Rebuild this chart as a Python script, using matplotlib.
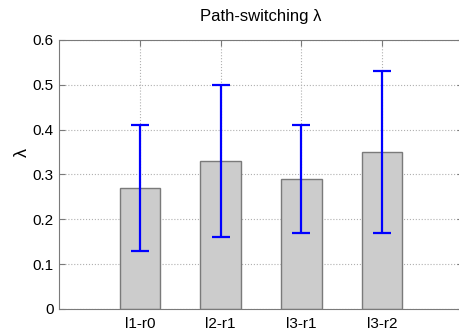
import matplotlib.pyplot as plt
import numpy as np

# Data
categories = ['l1-r0', 'l2-r1', 'l3-r1', 'l3-r2']
means = [0.27, 0.33, 0.29, 0.35]
lower = [0.13, 0.16, 0.17, 0.17]
upper = [0.41, 0.50, 0.41, 0.53]

plt.rcParams['font.family'] = ['Liberation Sans', 'DejaVu Sans']

x = np.arange(1, len(categories) + 1)
m = np.array(means)
yerr = [m - np.array(lower), np.array(upper) - m]

fig = plt.figure(figsize=(4.59, 3.31), dpi=100)
# axes runs a little past the right edge, like the cropped original
ax = fig.add_axes([59 / 459, 22 / 331, 404 / 459, 269 / 331])

ax.bar(x, means, 0.5, color='#cccccc', edgecolor='#7a7a7a', linewidth=1, zorder=2)
ax.errorbar(x, means, yerr=yerr, fmt='none', ecolor='#0000ff', elinewidth=1.6,
            capsize=6.5, capthick=1.6, zorder=3)

ax.set_xlim(0, 5)
ax.set_ylim(0, 0.6)
ax.set_xticks(x)
ax.set_xticklabels(categories)
ax.set_yticks(np.arange(0, 0.61, 0.1))
ax.set_yticklabels(['0', '0.1', '0.2', '0.3', '0.4', '0.5', '0.6'])
ax.tick_params(direction='in', length=4, labelsize=11, color='#7a7a7a',
               top=True, right=True)
ax.tick_params(axis='y', pad=4)
ax.tick_params(axis='x', pad=6)
ax.grid(True, linestyle=':', color='#b0b0b0', linewidth=0.8, zorder=0)
ax.set_axisbelow(True)
for s in ax.spines.values():
    s.set_color('#7a7a7a')

ax.set_ylabel('λ', fontsize=13)
ax.yaxis.set_label_coords(-0.07, 0.58)
ax.set_title('Path-switching λ', fontsize=12, pad=14)

fig.savefig('out.png', dpi=100)
